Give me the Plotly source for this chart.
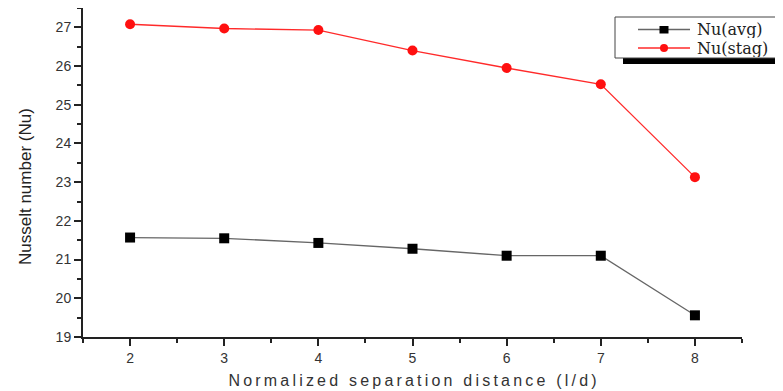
import plotly.graph_objects as go

x_vals = [2, 3, 4, 5, 6, 7, 8]
nu_avg = [21.57, 21.55, 21.43, 21.28, 21.10, 21.10, 19.56]
nu_stag = [27.08, 26.97, 26.93, 26.40, 25.95, 25.53, 23.13]
series_names = ["Nu(avg)", "Nu(stag)"]

x_title = "Normalized separation distance (l/d)"
y_title = "Nusselt number (Nu)"

AVG_LINE = "#666666"
STAG_LINE = "#ff2a2a"

# the page body has an 8px default margin, so the figure is drawn offset by (8, 8)
OFF = 8
W, H = 783 - OFF, 391 - OFF
PL, PR, PT, PB = 83, 742, 8, 337  # plot area in screenshot pixels

fig = go.Figure()
fig.add_trace(go.Scatter(x=x_vals, y=nu_avg, mode="lines+markers", name=series_names[0],
                         line=dict(color=AVG_LINE, width=1.3),
                         marker=dict(symbol="square", size=10, color="black"),
                         showlegend=False))
fig.add_trace(go.Scatter(x=x_vals, y=nu_stag, mode="lines+markers", name=series_names[1],
                         line=dict(color=STAG_LINE, width=1.3),
                         marker=dict(symbol="circle", size=10, color="#ff1010"),
                         showlegend=False))

axis_common = dict(showgrid=False, zeroline=False, showline=True, linecolor="#222222", linewidth=2,
                   ticks="outside", ticklen=7, tickwidth=2, tickcolor="#222222", automargin=False,
                   tickfont=dict(family="Liberation Sans, Arial", size=14, color="#333333"),
                   minor=dict(ticks="outside", ticklen=4, tickwidth=2, tickcolor="#222222", dtick=0.5))

spaced = " ".join("\u2009".join(w) for w in x_title.split(" "))
spaced = spaced.replace(" ", "\u2009 \u2009")

fig.update_xaxes(range=[1.5, 8.5], dtick=1, tick0=2, **axis_common,
                 title=dict(text=spaced,
                            font=dict(family="Liberation Sans, Arial", size=16, color="#333333"), standoff=10))
fig.update_yaxes(range=[19, 27.5], dtick=1, tick0=19, **axis_common)


def px(xp):
    return (xp - PL) / float(PR - PL)


def py(yp):
    return (PB - yp) / float(PB - PT)


shapes = []
# legend shadow
shapes.append(dict(type="rect", xref="paper", yref="paper", x0=px(623), x1=px(800), y0=py(64), y1=py(24),
                   fillcolor="black", line=dict(width=0)))
# legend box
shapes.append(dict(type="rect", xref="paper", yref="paper", x0=px(615), x1=px(800), y0=py(58), y1=py(17),
                   fillcolor="white", line=dict(color="#444444", width=1)))
rows = [29.5, 48]
colors = [AVG_LINE, STAG_LINE]
for yr, c in zip(rows, colors):
    shapes.append(dict(type="line", xref="paper", yref="paper", x0=px(638), x1=px(690), y0=py(yr), y1=py(yr),
                       line=dict(color=c, width=1.3)))
shapes.append(dict(type="rect", xref="paper", yref="paper", x0=px(659.5), x1=px(668.5), y0=py(33.5), y1=py(26),
                   fillcolor="black", line=dict(width=0)))
shapes.append(dict(type="circle", xref="paper", yref="paper", x0=px(660), x1=px(668), y0=py(52), y1=py(44),
                   fillcolor="#ff1010", line=dict(width=0)))

annotations = []
for yr, name in zip(rows, series_names):
    annotations.append(dict(x=px(696), y=py(yr), xref="paper", yref="paper", text=name, showarrow=False,
                            xanchor="left", yanchor="middle", height=17, valign="middle", borderpad=0,
                            font=dict(family="DejaVu Serif, Liberation Serif", size=16, color="#222222")))
# y axis title
annotations.append(dict(x=px(25), y=py(187), xref="paper", yref="paper", text=y_title, showarrow=False,
                        textangle=-90, xanchor="center", yanchor="middle",
                        font=dict(family="Liberation Sans, Arial", size=17, color="#222222")))

fig.update_layout(
    width=W, height=H,
    margin=dict(l=PL - OFF, r=W - (PR - OFF), t=PT - OFF, b=H - (PB - OFF), pad=0),
    paper_bgcolor="white", plot_bgcolor="white",
    showlegend=False,
    shapes=shapes,
    annotations=annotations,
)
fig.write_html("out.html")
